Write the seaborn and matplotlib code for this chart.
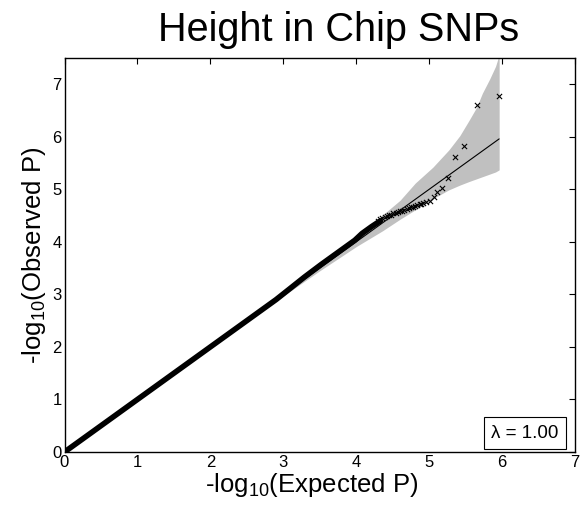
import matplotlib
matplotlib.use("Agg")
import matplotlib.pyplot as plt
import seaborn as sns
import pandas as pd

# ---- data ----
# dense part of the QQ curve (expected vs observed -log10 P)
dense_exp = [0.0, 0.5, 1.0, 1.5, 2.0, 2.5, 2.9, 3.10, 3.29, 3.52, 3.75, 3.98, 4.08, 4.21, 4.33]
dense_obs = [0.0, 0.5, 1.0, 1.5, 2.0, 2.5, 2.9, 3.12, 3.33, 3.57, 3.80, 4.03, 4.16, 4.29, 4.40]

# individual points in the tail
tail_exp = [4.30, 4.33, 4.36, 4.39, 4.42, 4.45, 4.48, 4.51, 4.54, 4.57, 4.60, 4.63,
            4.66, 4.69, 4.72, 4.75, 4.78, 4.81, 4.84, 4.87, 4.89,
            4.92, 4.96, 5.01, 5.06, 5.11, 5.18, 5.26, 5.36, 5.48, 5.66, 5.96]
tail_obs = [4.40, 4.43, 4.45, 4.47, 4.49, 4.51, 4.52, 4.54, 4.55, 4.57, 4.58, 4.59,
            4.61, 4.62, 4.64, 4.66, 4.67, 4.69, 4.70, 4.72, 4.73,
            4.74, 4.75, 4.77, 4.86, 4.94, 5.02, 5.21, 5.62, 5.83, 6.61, 6.77]

# 95% confidence band
band_x = [0.0, 1.0, 2.0, 3.0, 3.5, 4.0, 4.36, 4.6, 4.81, 5.05, 5.27, 5.42, 5.55, 5.65, 5.73, 5.83, 5.91, 5.96]
band_lo = [0.0, 0.997, 1.99, 2.97, 3.45, 3.91, 4.21, 4.43, 4.61, 4.82, 4.99, 5.08, 5.15, 5.20, 5.24, 5.29, 5.33, 5.37]
band_hi = [0.0, 1.003, 2.01, 3.03, 3.55, 4.10, 4.51, 4.79, 5.12, 5.42, 5.75, 6.02, 6.32, 6.56, 6.83, 7.10, 7.34, 7.56]

# expected (null) line
null_x = [0.0, 5.96]
null_y = [0.0, 5.96]

x_ticks = [0, 1, 2, 3, 4, 5, 6, 7]
y_ticks = [0, 1, 2, 3, 4, 5, 6, 7]
lambda_label = "λ = 1.00"
title = "Height in Chip SNPs"

# ---- style ----
sns.set_style("white")
plt.rcParams["font.family"] = ["Liberation Sans", "DejaVu Sans"]
plt.rcParams["mathtext.fontset"] = "custom"
plt.rcParams["mathtext.rm"] = "Liberation Sans"
plt.rcParams["mathtext.it"] = "Liberation Sans"
plt.rcParams["xtick.direction"] = "in"
plt.rcParams["ytick.direction"] = "in"
plt.rcParams["text.color"] = "black"
plt.rcParams["axes.labelcolor"] = "black"
plt.rcParams["axes.titlecolor"] = "black"

fig = plt.figure(figsize=(5.8, 5.11), dpi=100)
ax = fig.add_axes([64.5 / 580, 1 - 452 / 511, (575 - 64.5) / 580, (452 - 58) / 511])

ax.fill_between(band_x, band_lo, band_hi, color="#c0c0c0", linewidth=0, zorder=1)

sns.lineplot(x=null_x, y=null_y, ax=ax, color="black", linewidth=0.8, zorder=3)
sns.lineplot(x=dense_exp, y=dense_obs, ax=ax, color="black", linewidth=4.0,
             sort=False, zorder=4)
sns.scatterplot(x=tail_exp, y=tail_obs, ax=ax, marker="x", color="black",
                s=14, linewidth=0.8, zorder=5)

ax.set_xlim(0, 7)
ax.set_ylim(0, 7.5)
ax.set_xticks(x_ticks)
ax.set_yticks(y_ticks)
ax.tick_params(axis="both", which="both", labelsize=12, length=4, width=0.8,
               top=True, right=True, pad=2, colors="black", labelcolor="black")
for sp in ax.spines.values():
    sp.set_visible(True)
    sp.set_color("black")
    sp.set_linewidth(1.0)

ax.set_xlabel(r"-log$_{10}$(Expected P)", fontsize=18.5, labelpad=1, x=0.485, color="black")
ax.set_ylabel(r"-log$_{10}$(Observed P)", fontsize=18.5, labelpad=3, color="black")
ax.set_title(title, fontsize=28.5, pad=12, x=0.536, color="black")

ax.text(0.902, 0.047, lambda_label, transform=ax.transAxes, ha="center", va="center",
        fontsize=13.5, color="black",
        bbox=dict(boxstyle="square,pad=0.4", fc="white", ec="black", lw=0.8))

fig.savefig("out.png", dpi=100)
